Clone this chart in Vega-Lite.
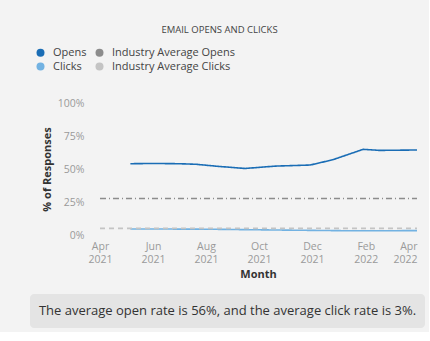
{
  "$schema": "https://vega.github.io/schema/vega-lite/v6.json",
  "background": "#f3f3f3",
  "padding": {"left": 30, "top": 24, "right": 4, "bottom": 4},
  "config": {
    "font": "Open Sans",
    "view": {"stroke": null},
    "axis": {"grid": false, "domain": false, "ticks": false, "labelColor": "#9a9a9a", "labelFontSize": 10.5, "titleColor": "#333333", "titleFontSize": 11, "titleFontWeight": "bold"}
  },
  "spacing": 14,
  "vconcat": [
    {
      "width": 395,
      "height": 132,
      "title": {"text": "EMAIL OPENS AND CLICKS", "fontSize": 9.5, "fontWeight": "normal", "color": "#444444", "anchor": "middle", "frame": "bounds", "offset": 64, "dx": -8},
      "data": {"values": [
        {"date": "2021-05-06T00:00:00", "series": "Opens", "value": 54.0},
        {"date": "2021-06-01T00:00:00", "series": "Opens", "value": 54.2},
        {"date": "2021-07-01T00:00:00", "series": "Opens", "value": 54.0},
        {"date": "2021-07-20T00:00:00", "series": "Opens", "value": 53.6},
        {"date": "2021-08-15T00:00:00", "series": "Opens", "value": 52.0},
        {"date": "2021-09-15T00:00:00", "series": "Opens", "value": 50.4},
        {"date": "2021-10-20T00:00:00", "series": "Opens", "value": 52.2},
        {"date": "2021-11-29T00:00:00", "series": "Opens", "value": 53.0},
        {"date": "2021-12-25T00:00:00", "series": "Opens", "value": 57.0},
        {"date": "2022-01-29T00:00:00", "series": "Opens", "value": 64.9},
        {"date": "2022-02-17T00:00:00", "series": "Opens", "value": 64.1},
        {"date": "2022-04-01T00:00:00", "series": "Opens", "value": 64.4},
        {"date": "2021-05-06T00:00:00", "series": "Clicks", "value": 4.6},
        {"date": "2021-08-01T00:00:00", "series": "Clicks", "value": 4.4},
        {"date": "2021-11-01T00:00:00", "series": "Clicks", "value": 3.7},
        {"date": "2022-01-15T00:00:00", "series": "Clicks", "value": 3.2},
        {"date": "2022-04-01T00:00:00", "series": "Clicks", "value": 3.3},
        {"date": "2021-04-01T00:00:00", "series": "Industry Average Opens", "value": 27.7},
        {"date": "2022-04-01T00:00:00", "series": "Industry Average Opens", "value": 27.7},
        {"date": "2021-04-01T00:00:00", "series": "Industry Average Clicks", "value": 5.0},
        {"date": "2022-04-01T00:00:00", "series": "Industry Average Clicks", "value": 5.0}
      ]},
      "mark": {"type": "line", "strokeWidth": 1.6},
      "encoding": {
        "x": {"field": "date", "type": "temporal",
          "scale": {"domain": [{"year": 2021, "month": "jan", "date": 10, "hours": 10}, {"year": 2022, "month": "apr", "date": 10, "hours": 5}]},
          "axis": {"title": "Month",
            "values": [{"year": 2021, "month": "apr", "date": 1}, {"year": 2021, "month": "jun", "date": 1}, {"year": 2021, "month": "aug", "date": 1}, {"year": 2021, "month": "oct", "date": 1}, {"year": 2021, "month": "dec", "date": 1}, {"year": 2022, "month": "feb", "date": 1}, {"year": 2022, "month": "apr", "date": 1}],
            "labelExpr": "[timeFormat(datum.value, '%b'), timeFormat(datum.value, '%Y')]", "labelLineHeight": 13, "labelPadding": 6, "titlePadding": 4, "titleX": 228, "labelFlush": 9}},
        "y": {"field": "value", "type": "quantitative",
          "scale": {"domain": [0, 100]},
          "axis": {"title": "% of Responses", "offset": -70, "values": [0, 25, 50, 75, 100], "labelExpr": "datum.value + '%'", "labelPadding": 16, "titlePadding": 5}},
        "color": {"field": "series", "type": "nominal",
          "scale": {"domain": ["Opens", "Clicks", "Industry Average Opens", "Industry Average Clicks"], "range": ["#1a6db5", "#72b2e2", "#8c8c8c", "#c4c4c4"]},
          "legend": {"title": null, "orient": "none", "legendX": 5, "legendY": -56, "columns": 2, "columnPadding": 7, "rowPadding": 2, "symbolType": "circle", "symbolSize": 64, "symbolStrokeWidth": 0, "labelOffset": 7, "labelFontSize": 11, "labelColor": "#444444",
            "encode": {"symbols": {"update": {"fill": {"scale": "color", "field": "value"}, "opacity": {"value": 1}}}}}
        },
        "strokeDash": {"field": "series", "type": "nominal",
          "scale": {"domain": ["Opens", "Clicks", "Industry Average Opens", "Industry Average Clicks"], "range": [[1, 0], [1, 0], [6, 3, 1, 3], [5, 4]]},
          "legend": null}
      }
    },
    {
      "width": 395,
      "height": 34,
      "view": {"fill": "#e4e4e4", "cornerRadius": 4, "stroke": null},
      "data": {"values": [{"label": "The average open rate is 56%, and the average click rate is 3%."}]},
      "mark": {"type": "text", "fontSize": 13, "color": "#333333"},
      "encoding": {"text": {"field": "label", "type": "nominal"}}
    }
  ]
}
